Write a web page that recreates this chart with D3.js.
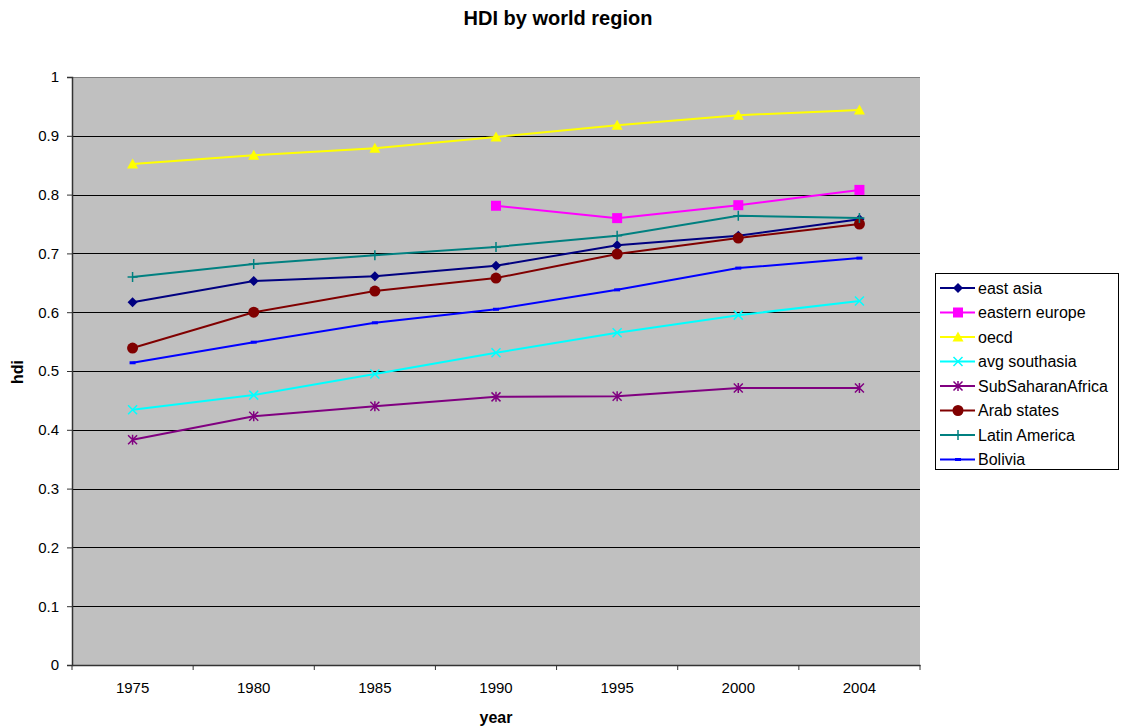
<!DOCTYPE html>
<html>
<head>
<meta charset="utf-8">
<script src="https://cdn.jsdelivr.net/npm/d3@7"></script>
<style>
  body { margin: 0; background: #fff; }
  text { font-family: "Liberation Sans", Arial, sans-serif; }
</style>
</head>
<body>
<svg id="chart"></svg>
<script>
const years = ['1975', '1980', '1985', '1990', '1995', '2000', '2004'];
const eastAsia = [0.617, 0.653, 0.661, 0.679, 0.714, 0.730, 0.758];
const easternEurope = [null, null, null, 0.781, 0.760, 0.782, 0.808];
const oecd = [0.852, 0.867, 0.879, 0.898, 0.918, 0.935, 0.944];
const southAsia = [0.434, 0.459, 0.495, 0.531, 0.565, 0.595, 0.619];
const subSaharan = [0.383, 0.423, 0.440, 0.456, 0.457, 0.471, 0.471];
const arabStates = [0.539, 0.600, 0.636, 0.658, 0.699, 0.726, 0.750];
const latinAmerica = [0.660, 0.682, 0.697, 0.711, 0.730, 0.764, 0.760];
const bolivia = [0.514, 0.549, 0.582, 0.605, 0.638, 0.675, 0.692];
const yTicks = [0, 0.1, 0.2, 0.3, 0.4, 0.5, 0.6, 0.7, 0.8, 0.9, 1];

const series = [
  { name: 'east asia', values: eastAsia, color: '#000080', marker: 'diamond' },
  { name: 'eastern europe', values: easternEurope, color: '#FF00FF', marker: 'square' },
  { name: 'oecd', values: oecd, color: '#FFFF00', marker: 'triangle' },
  { name: 'avg southasia', values: southAsia, color: '#00FFFF', marker: 'x' },
  { name: 'SubSaharanAfrica', values: subSaharan, color: '#800080', marker: 'star' },
  { name: 'Arab states', values: arabStates, color: '#800000', marker: 'circle' },
  { name: 'Latin America', values: latinAmerica, color: '#008080', marker: 'plus' },
  { name: 'Bolivia', values: bolivia, color: '#0000FF', marker: 'dash' }
];

const W = 1123, H = 727;
const plot = { left: 72, top: 77, right: 920, bottom: 665 };

const svg = d3.select('#chart').attr('width', W).attr('height', H);

const x = d3.scaleBand().domain(years).range([plot.left, plot.right]).padding(0);
const y = d3.scaleLinear().domain([0, 1]).range([plot.bottom, plot.top]);

// plot background
svg.append('rect')
  .attr('x', plot.left).attr('y', plot.top)
  .attr('width', plot.right - plot.left).attr('height', plot.bottom - plot.top)
  .attr('fill', '#C0C0C0');

// gridlines
svg.append('g').selectAll('line')
  .data(yTicks.filter(d => d > 0))
  .enter().append('line')
  .attr('x1', plot.left).attr('x2', plot.right)
  .attr('y1', d => Math.round(y(d)) + 0.5).attr('y2', d => Math.round(y(d)) + 0.5)
  .attr('stroke', d => d === 1 ? '#808080' : '#000')
  .attr('stroke-width', 1);

// y axis
const yAxis = svg.append('g')
  .attr('transform', `translate(${plot.left},0)`)
  .call(d3.axisLeft(y).tickValues(yTicks).tickFormat(d3.format('')).tickSize(5).tickPadding(8));
yAxis.attr('font-size', null).attr('font-family', null);
yAxis.select('.domain').attr('stroke', '#333').attr('stroke-width', 1.5);
yAxis.selectAll('.tick line').attr('stroke', '#333');
yAxis.selectAll('text').style('font-size', '15px').attr('fill', '#000');

// x axis
const xAxis = svg.append('g')
  .attr('transform', `translate(0,${plot.bottom})`)
  .call(d3.axisBottom(x).tickSize(0).tickPadding(17));
xAxis.attr('font-size', null).attr('font-family', null);
xAxis.select('.domain').attr('stroke', '#333').attr('stroke-width', 1.5);
xAxis.selectAll('text').style('font-size', '15px').attr('fill', '#000');
// tick marks between categories
xAxis.selectAll('.cat-tick')
  .data(years.concat(['end']))
  .enter().append('line')
  .attr('x1', (d, i) => plot.left + i * x.bandwidth())
  .attr('x2', (d, i) => plot.left + i * x.bandwidth())
  .attr('y1', 0).attr('y2', 5)
  .attr('stroke', '#333');

// marker drawing
function drawMarker(g, type, color) {
  switch (type) {
    case 'diamond':
      g.append('path').attr('d', 'M0,-5L5,0L0,5L-5,0Z').attr('fill', color);
      break;
    case 'square':
      g.append('rect').attr('x', -5).attr('y', -5).attr('width', 10).attr('height', 10).attr('fill', color);
      break;
    case 'triangle':
      g.append('path').attr('d', 'M0,-5.5L5.5,4.5L-5.5,4.5Z').attr('fill', color);
      break;
    case 'x':
      g.append('path').attr('d', 'M-4.5,-4.5L4.5,4.5M-4.5,4.5L4.5,-4.5').attr('stroke', color).attr('stroke-width', 1.5);
      break;
    case 'star':
      g.append('path').attr('d', 'M-4.5,-4.5L4.5,4.5M-4.5,4.5L4.5,-4.5M0,-5L0,5').attr('stroke', color).attr('stroke-width', 1.5);
      break;
    case 'circle':
      g.append('circle').attr('r', 5.5).attr('fill', color);
      break;
    case 'plus':
      g.append('path').attr('d', 'M-5,0L5,0M0,-5L0,5').attr('stroke', color).attr('stroke-width', 1.5);
      break;
    case 'dash':
      g.append('rect').attr('x', -3).attr('y', -1.5).attr('width', 6).attr('height', 3).attr('fill', color);
      break;
  }
}

const line = d3.line()
  .defined(d => d.v !== null)
  .x(d => x(d.year) + x.bandwidth() / 2)
  .y(d => y(d.v));

series.forEach(s => {
  const pts = years.map((yr, i) => ({ year: yr, v: s.values[i] }));
  svg.append('path')
    .datum(pts)
    .attr('d', line)
    .attr('fill', 'none')
    .attr('stroke', s.color)
    .attr('stroke-width', 2);
  pts.filter(p => p.v !== null).forEach(p => {
    const g = svg.append('g')
      .attr('transform', `translate(${x(p.year) + x.bandwidth() / 2},${y(p.v)})`);
    drawMarker(g, s.marker, s.color);
  });
});

// title
svg.append('text')
  .attr('x', 558).attr('y', 25)
  .attr('text-anchor', 'middle')
  .style('font-size', '20px').style('font-weight', 'bold')
  .text('HDI by world region');

// axis titles
svg.append('text')
  .attr('transform', 'translate(23,372) rotate(-90)')
  .attr('text-anchor', 'middle')
  .style('font-size', '16px').style('font-weight', 'bold')
  .text('hdi');
svg.append('text')
  .attr('x', 496).attr('y', 723)
  .attr('text-anchor', 'middle')
  .style('font-size', '16px').style('font-weight', 'bold')
  .text('year');

// legend
const legend = svg.append('g').attr('transform', 'translate(935,273)');
legend.append('rect')
  .attr('x', 0.5).attr('y', 0.5).attr('width', 183).attr('height', 196)
  .attr('fill', '#fff').attr('stroke', '#000');
const items = legend.selectAll('.legend-item')
  .data(series)
  .enter().append('g')
  .attr('class', 'legend-item')
  .attr('transform', (d, i) => `translate(0,${15 + i * 24.5})`);
items.append('line')
  .attr('x1', 5).attr('x2', 40).attr('y1', 0).attr('y2', 0)
  .attr('stroke', d => d.color).attr('stroke-width', 2);
items.each(function(d) {
  const g = d3.select(this).append('g').attr('transform', 'translate(23,0)');
  drawMarker(g, d.marker, d.color);
});
items.append('text')
  .attr('x', 43).attr('y', 0).attr('dy', '0.35em')
  .style('font-size', '16px')
  .text(d => d.name);
</script>
</body>
</html>
